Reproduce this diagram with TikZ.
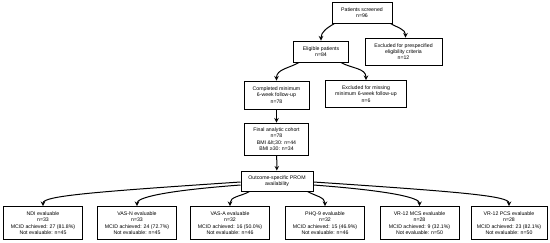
\documentclass[tikz,border=0pt]{standalone}
\usepackage{fontspec}
\setmainfont{Liberation Sans}
\usetikzlibrary{shapes,arrows,positioning,calc}

\begin{document}
\begin{tikzpicture}[
    x=1pt, y=-1pt,
    font=\fontsize{5.2}{6.3}\selectfont,
    block/.style={rectangle, draw, fill=white, line width=1pt, align=center, inner sep=1pt},
    outblock/.style={block, minimum width=79pt, minimum height=33pt},
    arrow/.style={->, >=stealth, line width=1pt}
]
\useasboundingbox (0,0) rectangle (550,242);

% Screening
\node[block, minimum width=60pt, minimum height=21pt] (screened) at (362,12.5) {Patients screened\\n=96};
\node[block, minimum width=55pt, minimum height=21pt] (eligible) at (321,51.5) {Eligible patients\\n=84};
\node[block, minimum width=77pt, minimum height=27pt] (exclelig) at (403.5,51.5) {Excluded for prespecified\\eligibility criteria\\n=12};

% Follow-up
\node[block, minimum width=65pt, minimum height=28pt] (completed) at (276.5,95) {Completed minimum\\6-week follow-up\\n=78};
\node[block, minimum width=81pt, minimum height=27pt] (exclfu) at (366,94) {Excluded for missing\\minimum 6-week follow-up\\n=6};

% Cohort
\node[block, minimum width=64pt, minimum height=32pt] (cohort) at (276.5,139) {Final analytic cohort\\n=78\\BMI \&lt;30: n=44\\BMI ≥30: n=34};
\node[block, minimum width=72pt, minimum height=20pt] (prom) at (277,181) {Outcome-specific PROM\\availability};

% Outcome boxes
\node[outblock] (ndi) at (43,223) {NDI evaluable\\n=33\\MCID achieved: 27 (81.8\%)\\Not evaluable: n=45};
\node[outblock] (vasn) at (137,223) {VAS-N evaluable\\n=33\\MCID achieved: 24 (72.7\%)\\Not evaluable: n=45};
\node[outblock] (vasa) at (230,223) {VAS-A evaluable\\n=32\\MCID achieved: 16 (50.0\%)\\Not evaluable: n=46};
\node[outblock] (phq) at (325,223) {PHQ-9 evaluable\\n=32\\MCID achieved: 15 (46.9\%)\\Not evaluable: n=46};
\node[outblock] (mcs) at (419.5,223) {VR-12 MCS evaluable\\n=28\\MCID achieved: 9 (32.1\%)\\Not evaluable: n=50};
\node[outblock, minimum width=76pt] (pcs) at (509,223) {VR-12 PCS evaluable\\n=28\\MCID achieved: 23 (82.1\%)\\Not evaluable: n=50};

% Arrows - flow
\draw[arrow] ([xshift=3pt]screened.south west) to[out=-150,in=90] (eligible.north);
\draw[arrow] ([xshift=-2pt]screened.south east) to[out=-30,in=90] ([xshift=2pt]exclelig.north);
\draw[arrow] ([xshift=6pt]eligible.south west) to[out=-150,in=90] (completed.north);
\draw[arrow] ([xshift=-8pt]eligible.south east) to[out=-30,in=90] (exclfu.north);
\draw[arrow] (completed) -- (cohort);
\draw[arrow] (cohort) -- (prom);

% Arrows - outcomes
\draw[arrow] ([yshift=-1pt]prom.west) .. controls +(-150,10) and +(0,-10) .. (ndi.north);
\draw[arrow] ([yshift=-4pt]prom.west) .. controls +(-80,6) and +(0,-8) .. (vasn.north);
\draw[arrow] ([xshift=9pt]prom.south west) to[out=-150,in=90] (vasa.north);
\draw[arrow] ([xshift=-6pt]prom.south east) to[out=-30,in=90] (phq.north);
\draw[arrow] ([yshift=-4pt]prom.east) .. controls +(80,6) and +(0,-8) .. (mcs.north);
\draw[arrow] ([yshift=-1pt]prom.east) .. controls +(150,10) and +(0,-10) .. (pcs.north);

\end{tikzpicture}
\end{document}
